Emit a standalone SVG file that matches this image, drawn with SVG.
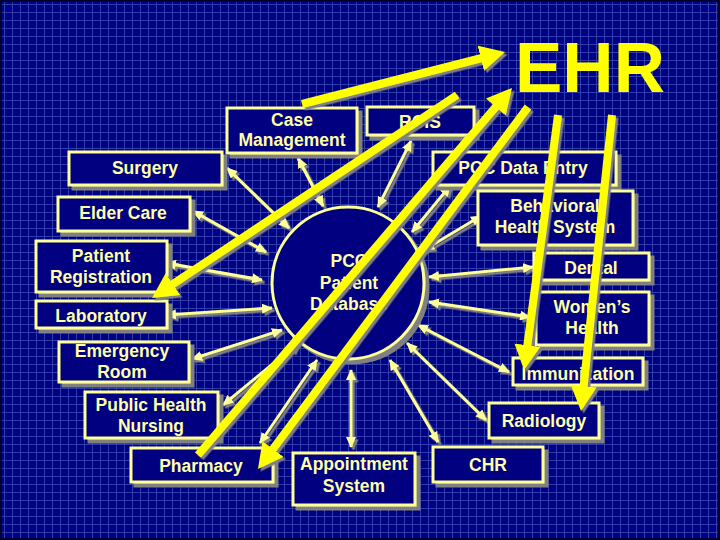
<svg xmlns="http://www.w3.org/2000/svg" width="720" height="540" viewBox="0 0 720 540">
<style>
.box{fill:#000080;stroke:#ffff99;stroke-width:3;filter:url(#sh)}
.lbl{font-family:"Liberation Sans",Arial,sans-serif;font-weight:bold;font-size:17.5px;fill:#ffffa8;text-anchor:middle}
.thin{stroke:#ffff99;stroke-width:3;fill:none;marker-start:url(#ah);marker-end:url(#ah)}
.big{stroke:#ffff00;stroke-width:8;fill:none;marker-end:url(#bh)}
</style>
<defs>
<pattern id="grid" width="8" height="8" patternUnits="userSpaceOnUse" x="4" y="4">
<rect width="8" height="8" fill="#000084"/>
<path d="M0.5,0V8M0,0.5H8" stroke="#2e3eaa" stroke-width="1"/>
</pattern>
<filter id="sh" x="-20%" y="-20%" width="150%" height="150%">
<feDropShadow dx="4" dy="4" stdDeviation="0.6" flood-color="#808080" flood-opacity="1"/>
</filter>
<filter id="sh2" x="-10%" y="-10%" width="130%" height="130%">
<feDropShadow dx="2.5" dy="2.5" stdDeviation="0.5" flood-color="#808080" flood-opacity="1"/>
</filter>
<marker id="ah" viewBox="0 0 11 10" refX="10" refY="5" markerWidth="11" markerHeight="10" markerUnits="userSpaceOnUse" orient="auto-start-reverse">
<path d="M0,0L11,5L0,10z" fill="#ffff99"/>
</marker>
<marker id="bh" viewBox="0 0 25 26" refX="1" refY="13" markerWidth="25" markerHeight="26" markerUnits="userSpaceOnUse" orient="auto">
<path d="M0,0L25,13L0,26z" fill="#ffff00"/>
</marker>
</defs>
<rect x="0" y="0" width="720" height="540" fill="url(#grid)"/>
<rect x="1" y="1" width="718" height="538" fill="none" stroke="#000030" stroke-width="2"/>

<g id="connectors" filter="url(#sh2)">
<line class="thin" x1="298" y1="158" x2="323" y2="206"/>
<line class="thin" x1="411" y1="141" x2="378" y2="207"/>
<line class="thin" x1="227" y1="168" x2="289" y2="228"/>
<line class="thin" x1="450" y1="186" x2="412" y2="232"/>
<line class="thin" x1="193" y1="211" x2="266" y2="252"/>
<line class="thin" x1="481" y1="216" x2="424" y2="250"/>
<line class="thin" x1="166" y1="263" x2="262" y2="280"/>
<line class="thin" x1="533" y1="267" x2="429" y2="277"/>
<line class="thin" x1="166" y1="315" x2="272" y2="308"/>
<line class="thin" x1="530" y1="317" x2="429" y2="302"/>
<line class="thin" x1="192" y1="359" x2="282" y2="330"/>
<line class="thin" x1="509" y1="372" x2="418" y2="325"/>
<line class="thin" x1="223" y1="405" x2="298" y2="343"/>
<line class="thin" x1="260" y1="443" x2="317" y2="360"/>
<line class="thin" x1="351" y1="370" x2="351" y2="447"/>
<line class="thin" x1="438" y1="442" x2="390" y2="360"/>
<line class="thin" x1="486" y1="420" x2="407" y2="343"/>
</g>

<g id="case-management"><rect class="box" x="227" y="108" width="130" height="45"/><text class="lbl" x="292" y="126">Case</text><text class="lbl" x="292" y="146">Management</text></g>
<g id="rcis"><rect class="box" x="367" y="107" width="107" height="28"/><text class="lbl" x="420" y="128">RCIS</text></g>
<g id="surgery"><rect class="box" x="69" y="152" width="153" height="33"/><text class="lbl" x="145" y="174">Surgery</text></g>
<g id="pcc-data-entry"><rect class="box" x="433" y="152" width="183" height="33"/><text class="lbl" x="523" y="174">PCC Data Entry</text></g>
<g id="elder-care"><rect class="box" x="58" y="197" width="132" height="34"/><text class="lbl" x="123" y="219">Elder Care</text></g>
<g id="behavioral-health"><rect class="box" x="478" y="191" width="155" height="54"/><text class="lbl" x="555" y="212">Behavioral</text><text class="lbl" x="555" y="233">Health System</text></g>
<g id="patient-registration"><rect class="box" x="36" y="241" width="131" height="51"/><text class="lbl" x="101" y="262">Patient</text><text class="lbl" x="101" y="283">Registration</text></g>
<g id="laboratory"><rect class="box" x="36" y="301" width="131" height="27"/><text class="lbl" x="101" y="322">Laboratory</text></g>
<g id="dental"><rect class="box" x="534" y="253" width="115" height="27"/><text class="lbl" x="591" y="274">Dental</text></g>
<g id="womens-health"><rect class="box" x="536" y="292" width="113" height="53"/><text class="lbl" x="592" y="313">Women’s</text><text class="lbl" x="592" y="334">Health</text></g>
<g id="emergency-room"><rect class="box" x="59" y="342" width="130" height="40"/><text class="lbl" x="122" y="357">Emergency</text><text class="lbl" x="122" y="378">Room</text></g>
<g id="immunization"><rect class="box" x="513" y="358" width="130" height="27"/><text class="lbl" x="578" y="380">Immunization</text></g>
<g id="public-health-nursing"><rect class="box" x="85" y="392" width="133" height="46"/><text class="lbl" x="151" y="411">Public Health</text><text class="lbl" x="151" y="432">Nursing</text></g>
<g id="radiology"><rect class="box" x="489" y="403" width="110" height="35"/><text class="lbl" x="544" y="427">Radiology</text></g>
<g id="pharmacy"><rect class="box" x="131" y="448" width="142" height="34"/><text class="lbl" x="201" y="472">Pharmacy</text></g>
<g id="appointment-system"><rect class="box" x="293" y="453" width="122" height="52"/><text class="lbl" x="354" y="470">Appointment</text><text class="lbl" x="354" y="492">System</text></g>
<g id="chr"><rect class="box" x="433" y="447" width="110" height="35"/><text class="lbl" x="488" y="471">CHR</text></g>
<g id="pcc-patient-database"><circle class="box" cx="348" cy="283" r="76"/><text class="lbl" x="349" y="267">PCC</text><text class="lbl" x="349" y="289">Patient</text><text class="lbl" x="349" y="310">Database</text></g>
<g id="ehr"><text x="515" y="92" font-family="'Liberation Sans',Arial,sans-serif" font-weight="bold" font-size="71" fill="#ffff00">EHR</text></g>

<g id="ehr-connectors" filter="url(#sh2)">
<line class="big" x1="302" y1="104" x2="481.8" y2="58"/>
<line class="big" x1="457" y1="95" x2="172" y2="284.7"/>
<line class="big" x1="198" y1="455" x2="496.4" y2="106.2"/>
<line class="big" x1="528" y1="107" x2="272.3" y2="449.8"/>
<line class="big" x1="558" y1="115" x2="527.2" y2="346.2"/>
<line class="big" x1="612" y1="115" x2="583.5" y2="387.1"/>
</g>
</svg>
